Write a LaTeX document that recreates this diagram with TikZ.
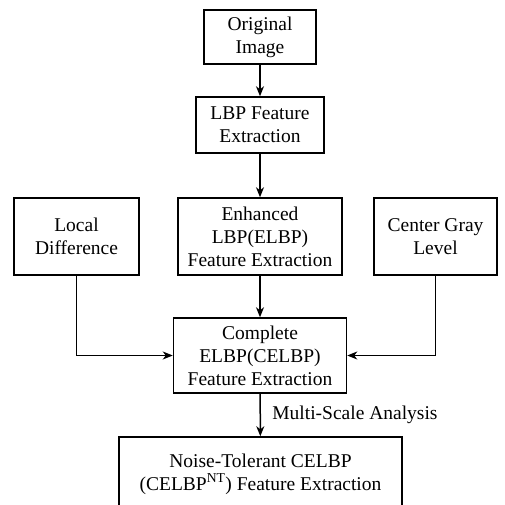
\documentclass[tikz,border=0pt]{standalone}
\usepackage{fontspec}
\setmainfont{Liberation Serif}
\usetikzlibrary{arrows.meta}
\tikzset{%
    stage/.style={%
        draw, line width=1.5pt, align=center, inner sep=2pt,
        font=\fontsize{19.5}{23}\selectfont},
    flow/.style={line width=1.5pt, -{Stealth[length=10pt,width=8pt,inset=3pt]}}
}

\begin{document}
\begin{tikzpicture}[x=1pt,y=-1pt]
    \clip (0,0) rectangle (504,505);
    \node[stage, minimum width=112pt, minimum height=54pt] (orig) at (260,37) {Original\\Image};
    \node[stage, minimum width=128pt, minimum height=56pt] (lbp) at (260,125) {LBP Feature\\Extraction};
    \node[stage, minimum width=125pt, minimum height=77pt] (local) at (76.5,236.5) {Local\\Difference};
    \node[stage, minimum width=164pt, minimum height=77pt] (elbp) at (260,236.5) {Enhanced\\LBP(ELBP)\\Feature Extraction};
    \node[stage, minimum width=123pt, minimum height=77pt] (cgl) at (435.5,236.5) {Center Gray\\Level};
    \node[stage, minimum width=173pt, minimum height=75pt] (celbp) at (260,355.5) {Complete\\ELBP(CELBP)\\Feature Extraction};
    \node[stage, minimum width=283pt, minimum height=74pt] (nt) at (260.5,474) {Noise-Tolerant CELBP\\(CELBP\textsuperscript{NT}) Feature Extraction};
%    connectors
    \draw[flow] (orig) -- (lbp);
    \draw[flow] (lbp) -- (elbp);
    \draw[flow] (elbp) -- (celbp);
    \draw[flow] (local.south) |- (celbp.west);
    \draw[flow] (cgl.south) |- (celbp.east);
    \draw[flow] (celbp) -- node[right, xshift=8pt, font=\fontsize{19.5}{23}\selectfont] {Multi-Scale Analysis} (nt);
\end{tikzpicture}
\end{document}
